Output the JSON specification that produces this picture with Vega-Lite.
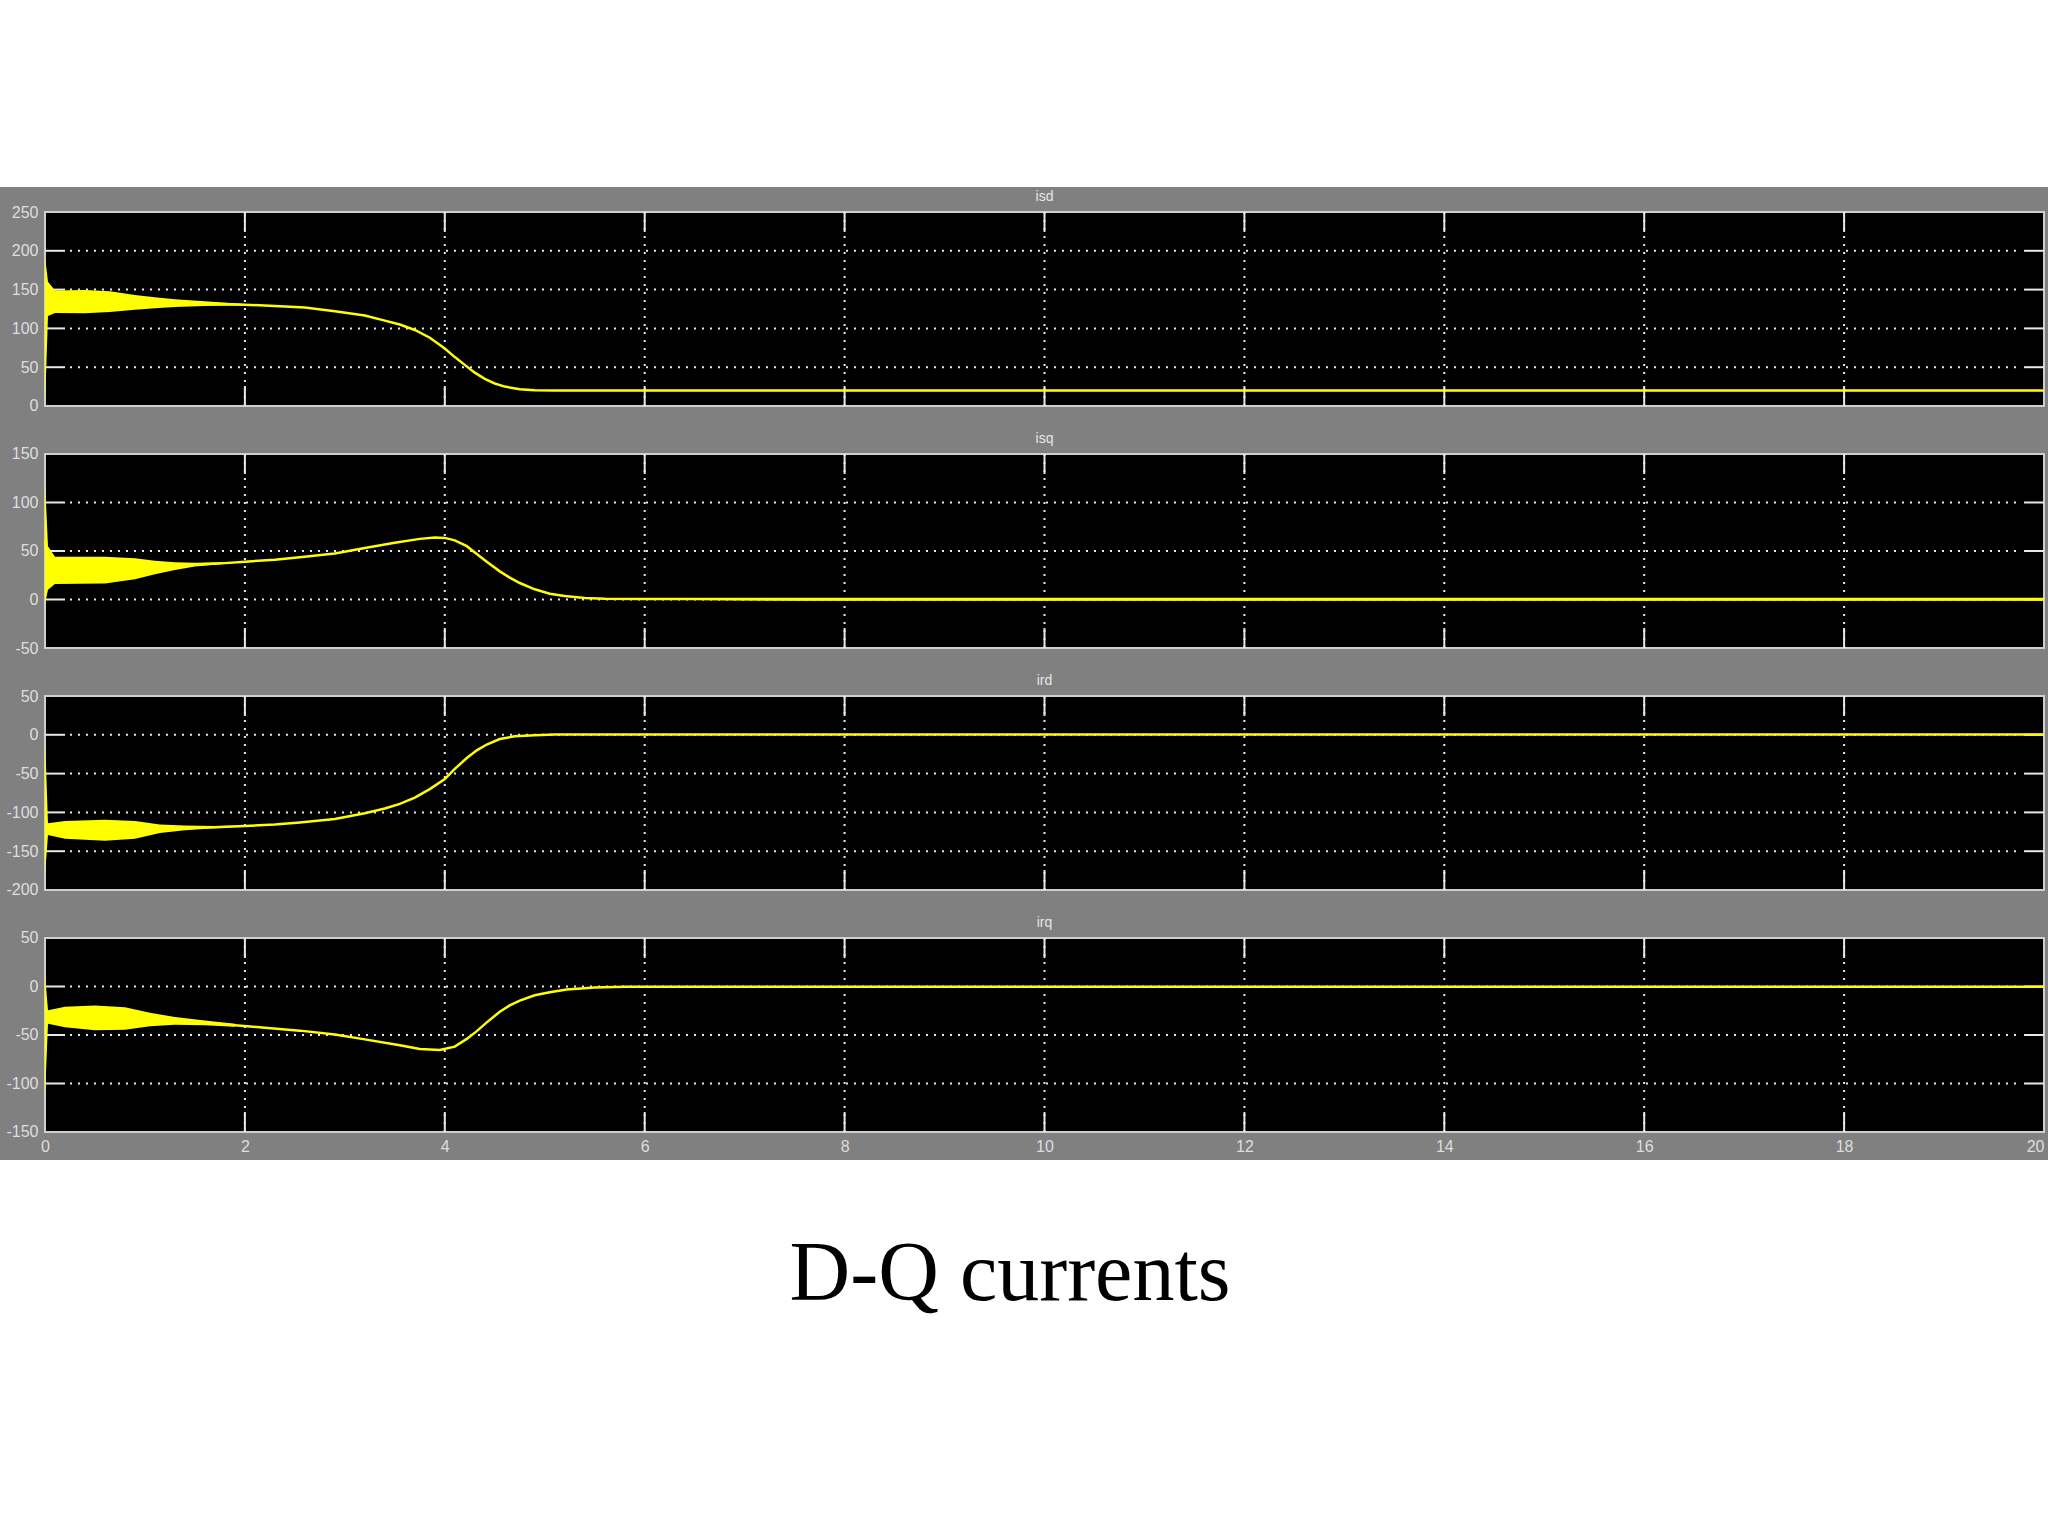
{
"$schema":"https://vega.github.io/schema/vega-lite/v6.json",
"background":"#ffffff",
"padding":{"left":0,"right":0,"top":187,"bottom":216},
"title":{"text":"D-Q currents","orient":"bottom","anchor":"middle","frame":"group","offset":140,"baseline":"alphabetic","dx":-14,"font":"Liberation Serif","fontSize":84,"fontWeight":"normal","color":"#000000"},
"config":{"view":{"fill":"#808080","stroke":null}},
"spacing":0,
"datasets":{
"gx":[{"t":2},{"t":4},{"t":6},{"t":8},{"t":10},{"t":12},{"t":14},{"t":16},{"t":18}],
"g1":[{"v":50},{"v":100},{"v":150},{"v":200}],
"g2":[{"v":0},{"v":50},{"v":100}],
"g3":[{"v":-150},{"v":-100},{"v":-50},{"v":0}],
"g4":[{"v":-100},{"v":-50},{"v":0}],
"isd":[{"t":0,"v":140,"lo":0,"hi":193},{"t":0.03,"v":138,"lo":116,"hi":160},{"t":0.1,"v":134.5,"lo":120,"hi":149},{"t":0.4,"v":134.5,"lo":119.5,"hi":149.5},{"t":0.65,"v":134,"lo":121,"hi":148},{"t":0.9,"v":133.5,"lo":124,"hi":143},{"t":1.1,"v":133,"lo":126,"hi":140},{"t":1.3,"v":132.5,"lo":127.5,"hi":137.5},{"t":1.6,"v":132,"lo":129,"hi":135},{"t":2.0,"v":130.5,"lo":129.5,"hi":131.5},{"t":2.3,"v":129},{"t":2.6,"v":127},{"t":2.9,"v":122},{"t":3.2,"v":116.5},{"t":3.4,"v":110},{"t":3.55,"v":105},{"t":3.7,"v":98},{"t":3.85,"v":88},{"t":4.0,"v":74},{"t":4.1,"v":63},{"t":4.2,"v":53},{"t":4.3,"v":43},{"t":4.4,"v":35},{"t":4.5,"v":29},{"t":4.6,"v":25},{"t":4.75,"v":21.5},{"t":4.9,"v":20.2},{"t":5.1,"v":20},{"t":20,"v":20}],
"isq":[{"t":0,"v":60,"lo":-5,"hi":123},{"t":0.03,"v":32,"lo":10,"hi":55},{"t":0.1,"v":30,"lo":16,"hi":44},{"t":0.6,"v":30,"lo":16.5,"hi":44},{"t":0.9,"v":31.5,"lo":21,"hi":42.5},{"t":1.1,"v":33,"lo":26,"hi":40},{"t":1.3,"v":34.5,"lo":30.5,"hi":38.5},{"t":1.5,"v":36,"lo":34,"hi":38},{"t":1.8,"v":37.5,"lo":36.5,"hi":38.5},{"t":2.0,"v":39,"lo":39,"hi":39},{"t":2.3,"v":41,"lo":41,"hi":41},{"t":2.55,"v":43.5,"lo":43.5,"hi":43.5},{"t":2.9,"v":47.5,"lo":47.5,"hi":47.5},{"t":3.2,"v":53,"lo":53,"hi":53},{"t":3.5,"v":58.5,"lo":58.5,"hi":58.5},{"t":3.75,"v":62.5,"lo":62.5,"hi":62.5},{"t":3.9,"v":64,"lo":64,"hi":64},{"t":4.0,"v":63.5,"lo":63.5,"hi":63.5},{"t":4.1,"v":61,"lo":61,"hi":61},{"t":4.22,"v":55,"lo":55,"hi":55},{"t":4.32,"v":47,"lo":47,"hi":47},{"t":4.42,"v":39,"lo":39,"hi":39},{"t":4.55,"v":29,"lo":29,"hi":29},{"t":4.65,"v":22.5,"lo":22.5,"hi":22.5},{"t":4.75,"v":17,"lo":17,"hi":17},{"t":4.9,"v":10.5,"lo":10.5,"hi":10.5},{"t":5.05,"v":6,"lo":6,"hi":6},{"t":5.2,"v":3.5,"lo":3.5,"hi":3.5},{"t":5.4,"v":1.5,"lo":1.5,"hi":1.5},{"t":5.6,"v":0.8,"lo":0.8,"hi":0.8},{"t":6.0,"v":0.5,"lo":0.5,"hi":0.5},{"t":6.5,"v":0.5,"lo":-0.5,"hi":1.5},{"t":7.5,"v":0.3,"lo":-1.2,"hi":1.8},{"t":20,"v":0.3,"lo":-1.2,"hi":1.8}],
"ird":[{"t":0,"v":-120,"lo":-181,"hi":-2},{"t":0.03,"v":-121,"lo":-129,"hi":-114},{"t":0.2,"v":-122.5,"lo":-134,"hi":-111},{"t":0.6,"v":-123,"lo":-136.5,"hi":-109.5},{"t":0.9,"v":-122,"lo":-134,"hi":-111},{"t":1.15,"v":-121,"lo":-126.5,"hi":-115.5},{"t":1.4,"v":-120,"lo":-123,"hi":-117},{"t":1.7,"v":-119,"lo":-120.5,"hi":-117.5},{"t":2.0,"v":-117.5,"lo":-118,"hi":-117},{"t":2.3,"v":-115.5},{"t":2.55,"v":-113},{"t":2.9,"v":-108.5},{"t":3.2,"v":-101},{"t":3.4,"v":-95},{"t":3.55,"v":-89},{"t":3.7,"v":-81},{"t":3.85,"v":-70},{"t":4.0,"v":-57},{"t":4.1,"v":-44},{"t":4.22,"v":-30},{"t":4.32,"v":-20},{"t":4.42,"v":-12.5},{"t":4.55,"v":-5.5},{"t":4.7,"v":-2},{"t":4.9,"v":-0.5},{"t":5.1,"v":0.3},{"t":20,"v":0.3}],
"irq":[{"t":0,"v":-30,"lo":-114,"hi":13},{"t":0.03,"v":-31,"lo":-38.5,"hi":-24.5},{"t":0.2,"v":-31.5,"lo":-42,"hi":-21},{"t":0.5,"v":-32,"lo":-45,"hi":-19.5},{"t":0.8,"v":-33,"lo":-44.5,"hi":-21.5},{"t":1.05,"v":-34,"lo":-41,"hi":-27},{"t":1.3,"v":-35.5,"lo":-39.5,"hi":-31.5},{"t":1.6,"v":-37.5,"lo":-40,"hi":-35},{"t":1.9,"v":-40,"lo":-41.5,"hi":-38.5},{"t":2.2,"v":-42.5},{"t":2.55,"v":-45.5},{"t":2.9,"v":-49.5},{"t":3.2,"v":-54.5},{"t":3.55,"v":-60.5},{"t":3.75,"v":-64.5},{"t":3.95,"v":-65.5},{"t":4.1,"v":-62},{"t":4.22,"v":-54},{"t":4.32,"v":-46},{"t":4.42,"v":-37},{"t":4.55,"v":-26},{"t":4.65,"v":-19.5},{"t":4.75,"v":-14.5},{"t":4.9,"v":-9},{"t":5.05,"v":-6},{"t":5.22,"v":-3.2},{"t":5.5,"v":-1},{"t":5.8,"v":-0.2},{"t":20,"v":-0.2}]
},
"vconcat":[
{"width":2048,"height":242,
"data":{"name":"isd"},
"resolve":{"axis":{"x":"independent","y":"independent"}},
"layer":[
{"data":{"values":[{}]},"mark":{"type":"rect","fill":"#000000","stroke":"#cfcfcf","strokeWidth":2},"encoding":{
"x":{"datum":0,"type":"quantitative","scale":{"domain":[-0.4502,20.04],"nice":false,"zero":false},"axis":{"orient":"top","offset":-25,"domain":false,"ticks":false,"labels":false,"grid":false,"minExtent":0,"maxExtent":0,"title":"isd","titleX":1044,"titleY":-12,"titleAlign":"center","titleBaseline":"alphabetic","titleFont":"Liberation Sans","titleFontSize":14,"titleFontWeight":"normal","titleColor":"#e6e6e6"}},
"x2":{"datum":20},
"y":{"datum":0,"type":"quantitative","scale":{"domain":[-29.64,282.22],"nice":false,"zero":false},"axis":{"orient":"left","values":[0,50,100,150,200,250],"labelExpr":"'' + datum.value","offset":-45,"domain":false,"ticks":false,"grid":false,"labelPadding":7,"labelFontSize":16,"labelFont":"Liberation Sans","labelColor":"#dedede","title":null,"labelOverlap":false}},
"y2":{"datum":250}}},
{"data":{"name":"g1"},"mark":{"type":"rule","color":"#e8e8e8","strokeWidth":2,"strokeDash":[2,6]},"encoding":{"x":{"datum":0.25,"type":"quantitative","axis":null},"x2":{"datum":19.78},"y":{"field":"v","type":"quantitative","axis":null}}},
{"data":{"name":"gx"},"mark":{"type":"rule","color":"#e8e8e8","strokeWidth":2,"strokeDash":[2,6]},"encoding":{"x":{"field":"t","type":"quantitative","axis":null},"y":{"datum":0,"type":"quantitative","axis":null},"y2":{"datum":250}}},
{"data":{"name":"g1"},"mark":{"type":"rule","color":"#e8e8e8","strokeWidth":2},"encoding":{"x":{"datum":0,"type":"quantitative","axis":null},"x2":{"datum":0.2},"y":{"field":"v","type":"quantitative","axis":null}}},
{"data":{"name":"g1"},"mark":{"type":"rule","color":"#e8e8e8","strokeWidth":2},"encoding":{"x":{"datum":19.8,"type":"quantitative","axis":null},"x2":{"datum":20},"y":{"field":"v","type":"quantitative","axis":null}}},
{"data":{"name":"gx"},"mark":{"type":"rule","color":"#e8e8e8","strokeWidth":2},"encoding":{"x":{"field":"t","type":"quantitative","axis":null},"y":{"datum":0,"type":"quantitative","axis":null},"y2":{"datum":25.8}}},
{"data":{"name":"gx"},"mark":{"type":"rule","color":"#e8e8e8","strokeWidth":2},"encoding":{"x":{"field":"t","type":"quantitative","axis":null},"y":{"datum":224.2,"type":"quantitative","axis":null},"y2":{"datum":250}}},
{"mark":{"type":"area","color":"#ffff00","opacity":1},"encoding":{"x":{"field":"t","type":"quantitative","axis":null},"y":{"field":"lo","type":"quantitative","axis":null},"y2":{"field":"hi"}}},
{"mark":{"type":"line","color":"#ffff00","strokeWidth":2.5},"encoding":{"x":{"field":"t","type":"quantitative","axis":null},"y":{"field":"v","type":"quantitative","axis":null}}}
]},
{"width":2048,"height":242,
"data":{"name":"isq"},
"resolve":{"axis":{"x":"independent","y":"independent"}},
"layer":[
{"data":{"values":[{}]},"mark":{"type":"rect","fill":"#000000","stroke":"#cfcfcf","strokeWidth":2},"encoding":{
"x":{"datum":0,"type":"quantitative","scale":{"domain":[-0.4502,20.04],"nice":false,"zero":false},"axis":{"orient":"top","offset":-25,"domain":false,"ticks":false,"labels":false,"grid":false,"minExtent":0,"maxExtent":0,"title":"isq","titleX":1044,"titleY":-12,"titleAlign":"center","titleBaseline":"alphabetic","titleFont":"Liberation Sans","titleFontSize":14,"titleFontWeight":"normal","titleColor":"#e6e6e6"}},
"x2":{"datum":20},
"y":{"datum":-50,"type":"quantitative","scale":{"domain":[-73.71,175.77],"nice":false,"zero":false},"axis":{"orient":"left","values":[-50,0,50,100,150],"labelExpr":"'' + datum.value","offset":-45,"domain":false,"ticks":false,"grid":false,"labelPadding":7,"labelFontSize":16,"labelFont":"Liberation Sans","labelColor":"#dedede","title":null,"labelOverlap":false}},
"y2":{"datum":150}}},
{"data":{"name":"g2"},"mark":{"type":"rule","color":"#e8e8e8","strokeWidth":2,"strokeDash":[2,6]},"encoding":{"x":{"datum":0.25,"type":"quantitative","axis":null},"x2":{"datum":19.78},"y":{"field":"v","type":"quantitative","axis":null}}},
{"data":{"name":"gx"},"mark":{"type":"rule","color":"#e8e8e8","strokeWidth":2,"strokeDash":[2,6]},"encoding":{"x":{"field":"t","type":"quantitative","axis":null},"y":{"datum":-50,"type":"quantitative","axis":null},"y2":{"datum":150}}},
{"data":{"name":"g2"},"mark":{"type":"rule","color":"#e8e8e8","strokeWidth":2},"encoding":{"x":{"datum":0,"type":"quantitative","axis":null},"x2":{"datum":0.2},"y":{"field":"v","type":"quantitative","axis":null}}},
{"data":{"name":"g2"},"mark":{"type":"rule","color":"#e8e8e8","strokeWidth":2},"encoding":{"x":{"datum":19.8,"type":"quantitative","axis":null},"x2":{"datum":20},"y":{"field":"v","type":"quantitative","axis":null}}},
{"data":{"name":"gx"},"mark":{"type":"rule","color":"#e8e8e8","strokeWidth":2},"encoding":{"x":{"field":"t","type":"quantitative","axis":null},"y":{"datum":-50,"type":"quantitative","axis":null},"y2":{"datum":-29.4}}},
{"data":{"name":"gx"},"mark":{"type":"rule","color":"#e8e8e8","strokeWidth":2},"encoding":{"x":{"field":"t","type":"quantitative","axis":null},"y":{"datum":129.4,"type":"quantitative","axis":null},"y2":{"datum":150}}},
{"mark":{"type":"area","color":"#ffff00","opacity":1},"encoding":{"x":{"field":"t","type":"quantitative","axis":null},"y":{"field":"lo","type":"quantitative","axis":null},"y2":{"field":"hi"}}},
{"mark":{"type":"line","color":"#ffff00","strokeWidth":2.5},"encoding":{"x":{"field":"t","type":"quantitative","axis":null},"y":{"field":"v","type":"quantitative","axis":null}}}
]},
{"width":2048,"height":242,
"data":{"name":"ird"},
"resolve":{"axis":{"x":"independent","y":"independent"}},
"layer":[
{"data":{"values":[{}]},"mark":{"type":"rect","fill":"#000000","stroke":"#cfcfcf","strokeWidth":2},"encoding":{
"x":{"datum":0,"type":"quantitative","scale":{"domain":[-0.4502,20.04],"nice":false,"zero":false},"axis":{"orient":"top","offset":-25,"domain":false,"ticks":false,"labels":false,"grid":false,"minExtent":0,"maxExtent":0,"title":"ird","titleX":1044,"titleY":-12,"titleAlign":"center","titleBaseline":"alphabetic","titleFont":"Liberation Sans","titleFontSize":14,"titleFontWeight":"normal","titleColor":"#e6e6e6"}},
"x2":{"datum":20},
"y":{"datum":-200,"type":"quantitative","scale":{"domain":[-229.64,82.22],"nice":false,"zero":false},"axis":{"orient":"left","values":[-200,-150,-100,-50,0,50],"labelExpr":"'' + datum.value","offset":-45,"domain":false,"ticks":false,"grid":false,"labelPadding":7,"labelFontSize":16,"labelFont":"Liberation Sans","labelColor":"#dedede","title":null,"labelOverlap":false}},
"y2":{"datum":50}}},
{"data":{"name":"g3"},"mark":{"type":"rule","color":"#e8e8e8","strokeWidth":2,"strokeDash":[2,6]},"encoding":{"x":{"datum":0.25,"type":"quantitative","axis":null},"x2":{"datum":19.78},"y":{"field":"v","type":"quantitative","axis":null}}},
{"data":{"name":"gx"},"mark":{"type":"rule","color":"#e8e8e8","strokeWidth":2,"strokeDash":[2,6]},"encoding":{"x":{"field":"t","type":"quantitative","axis":null},"y":{"datum":-200,"type":"quantitative","axis":null},"y2":{"datum":50}}},
{"data":{"name":"g3"},"mark":{"type":"rule","color":"#e8e8e8","strokeWidth":2},"encoding":{"x":{"datum":0,"type":"quantitative","axis":null},"x2":{"datum":0.2},"y":{"field":"v","type":"quantitative","axis":null}}},
{"data":{"name":"g3"},"mark":{"type":"rule","color":"#e8e8e8","strokeWidth":2},"encoding":{"x":{"datum":19.8,"type":"quantitative","axis":null},"x2":{"datum":20},"y":{"field":"v","type":"quantitative","axis":null}}},
{"data":{"name":"gx"},"mark":{"type":"rule","color":"#e8e8e8","strokeWidth":2},"encoding":{"x":{"field":"t","type":"quantitative","axis":null},"y":{"datum":-200,"type":"quantitative","axis":null},"y2":{"datum":-174.2}}},
{"data":{"name":"gx"},"mark":{"type":"rule","color":"#e8e8e8","strokeWidth":2},"encoding":{"x":{"field":"t","type":"quantitative","axis":null},"y":{"datum":24.2,"type":"quantitative","axis":null},"y2":{"datum":50}}},
{"mark":{"type":"area","color":"#ffff00","opacity":1},"encoding":{"x":{"field":"t","type":"quantitative","axis":null},"y":{"field":"lo","type":"quantitative","axis":null},"y2":{"field":"hi"}}},
{"mark":{"type":"line","color":"#ffff00","strokeWidth":2.5},"encoding":{"x":{"field":"t","type":"quantitative","axis":null},"y":{"field":"v","type":"quantitative","axis":null}}}
]},
{"width":2048,"height":247,
"data":{"name":"irq"},
"resolve":{"axis":{"x":"independent","y":"independent"}},
"layer":[
{"data":{"values":[{}]},"mark":{"type":"rect","fill":"#000000","stroke":"#cfcfcf","strokeWidth":2},"encoding":{
"x":{"datum":0,"type":"quantitative","scale":{"domain":[-0.4502,20.04],"nice":false,"zero":false},"axis":{"orient":"top","offset":-25,"domain":false,"ticks":false,"labels":false,"grid":false,"minExtent":0,"maxExtent":0,"title":"irq","titleX":1044,"titleY":-12,"titleAlign":"center","titleBaseline":"alphabetic","titleFont":"Liberation Sans","titleFontSize":14,"titleFontWeight":"normal","titleColor":"#e6e6e6"}},
"x2":{"datum":20},
"y":{"datum":-150,"type":"quantitative","scale":{"domain":[-178.87,75.77],"nice":false,"zero":false},"axis":{"orient":"left","values":[-150,-100,-50,0,50],"labelExpr":"'' + datum.value","offset":-45,"domain":false,"ticks":false,"grid":false,"labelPadding":7,"labelFontSize":16,"labelFont":"Liberation Sans","labelColor":"#dedede","title":null,"labelOverlap":false}},
"y2":{"datum":50}}},
{"data":{"name":"g4"},"mark":{"type":"rule","color":"#e8e8e8","strokeWidth":2,"strokeDash":[2,6]},"encoding":{"x":{"datum":0.25,"type":"quantitative","axis":null},"x2":{"datum":19.78},"y":{"field":"v","type":"quantitative","axis":null}}},
{"data":{"name":"gx"},"mark":{"type":"rule","color":"#e8e8e8","strokeWidth":2,"strokeDash":[2,6]},"encoding":{"x":{"field":"t","type":"quantitative","axis":null},"y":{"datum":-150,"type":"quantitative","axis":null},"y2":{"datum":50}}},
{"data":{"name":"g4"},"mark":{"type":"rule","color":"#e8e8e8","strokeWidth":2},"encoding":{"x":{"datum":0,"type":"quantitative","axis":null},"x2":{"datum":0.2},"y":{"field":"v","type":"quantitative","axis":null}}},
{"data":{"name":"g4"},"mark":{"type":"rule","color":"#e8e8e8","strokeWidth":2},"encoding":{"x":{"datum":19.8,"type":"quantitative","axis":null},"x2":{"datum":20},"y":{"field":"v","type":"quantitative","axis":null}}},
{"data":{"name":"gx"},"mark":{"type":"rule","color":"#e8e8e8","strokeWidth":2},"encoding":{"x":{"field":"t","type":"quantitative","axis":null},"y":{"datum":-150,"type":"quantitative","axis":null},"y2":{"datum":-129.4}}},
{"data":{"name":"gx"},"mark":{"type":"rule","color":"#e8e8e8","strokeWidth":2},"encoding":{"x":{"field":"t","type":"quantitative","axis":null},"y":{"datum":29.4,"type":"quantitative","axis":null},"y2":{"datum":50}}},
{"mark":{"type":"area","color":"#ffff00","opacity":1},"encoding":{"x":{"field":"t","type":"quantitative","axis":{"values":[0,2,4,6,8,10,12,14,16,18,20],"orient":"bottom","offset":-28,"domain":false,"ticks":false,"grid":false,"labelPadding":6,"labelFontSize":16,"labelFont":"Liberation Sans","labelColor":"#dedede","labelFlush":5,"labelOverlap":false,"title":null}},"y":{"field":"lo","type":"quantitative","axis":null},"y2":{"field":"hi"}}},
{"mark":{"type":"line","color":"#ffff00","strokeWidth":2.5},"encoding":{"x":{"field":"t","type":"quantitative","axis":null},"y":{"field":"v","type":"quantitative","axis":null}}}
]}
]
}
